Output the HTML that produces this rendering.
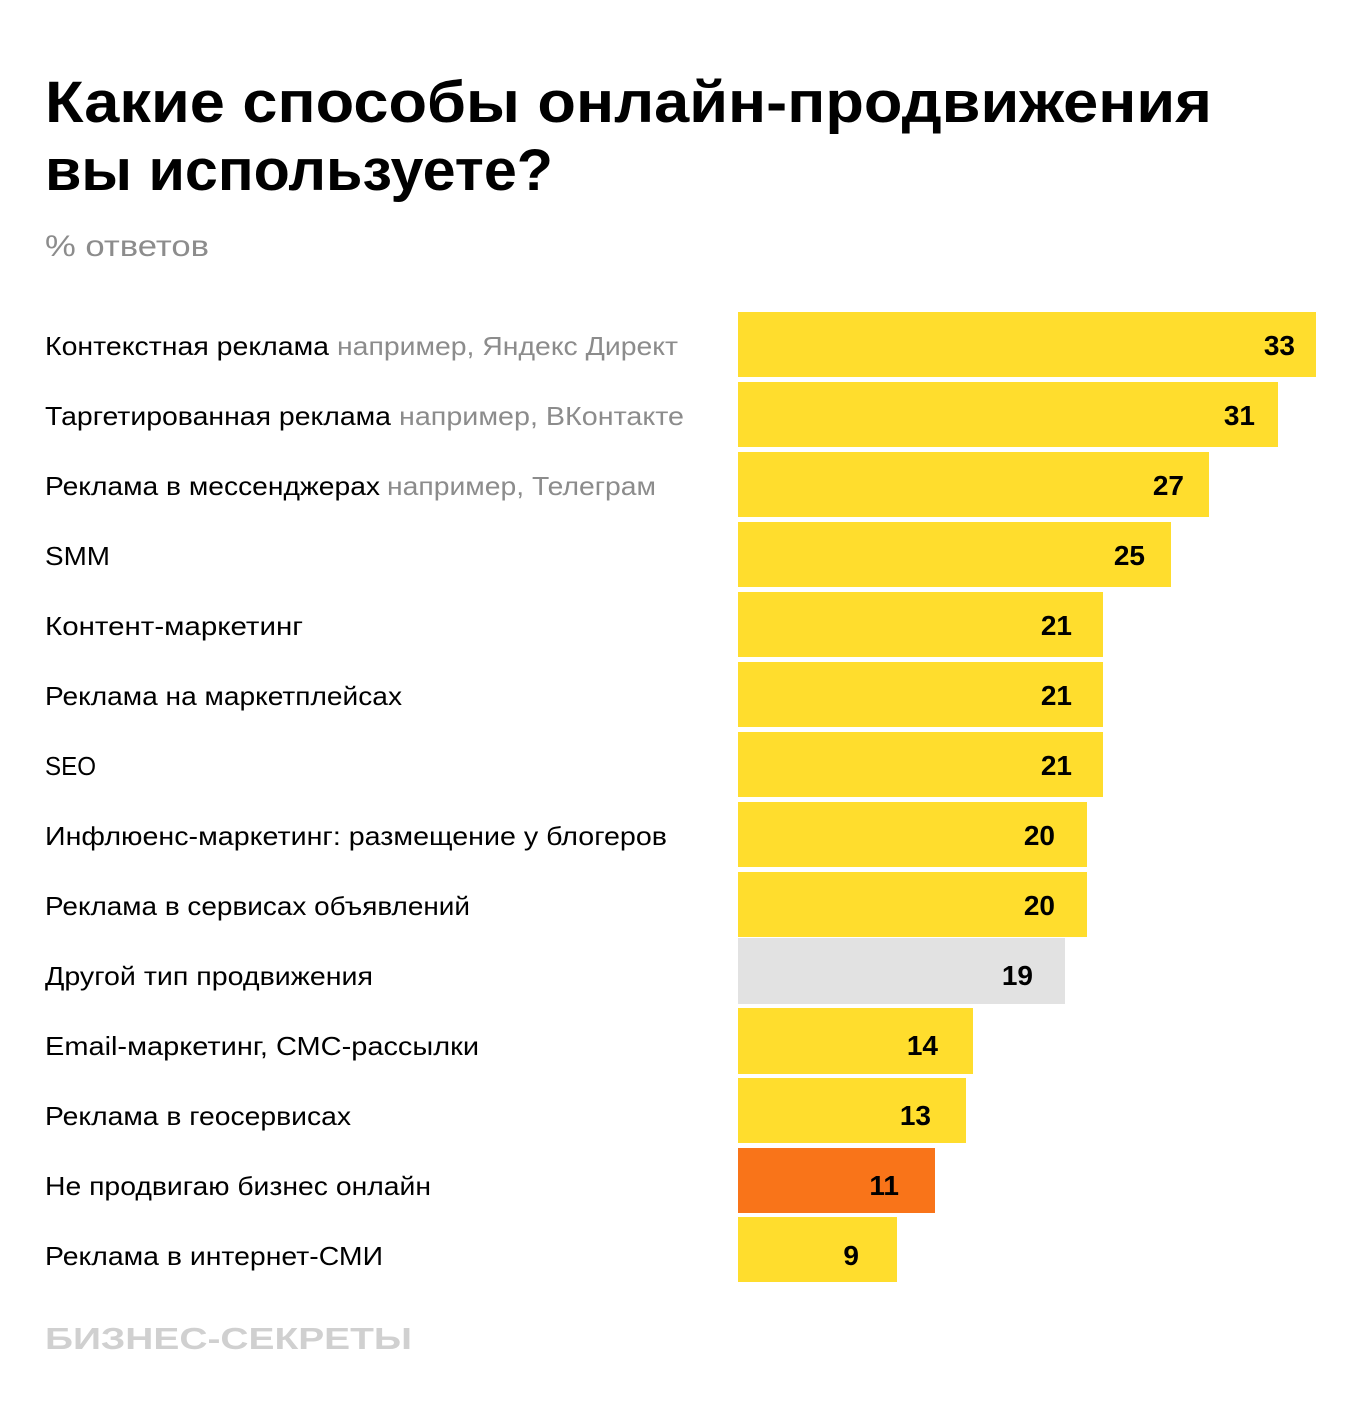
<!DOCTYPE html>
<html><head><meta charset="utf-8"><style>html,body{margin:0;padding:0;background:#fff}svg{display:block}</style></head>
<body>
<svg width="1360" height="1416" viewBox="0 0 1360 1416" xmlns="http://www.w3.org/2000/svg" font-family="'Liberation Sans', sans-serif">
<rect width="1360" height="1416" fill="#fff"/>
<text x="45" y="122" font-size="58" font-weight="bold" fill="#000" textLength="1167" lengthAdjust="spacingAndGlyphs">Какие способы онлайн-продвижения</text>
<text x="45" y="190" font-size="58" font-weight="bold" fill="#000" textLength="508" lengthAdjust="spacingAndGlyphs">вы используете?</text>
<text x="45" y="256" font-size="30" fill="#8c8c8c" textLength="164" lengthAdjust="spacingAndGlyphs">% ответов</text>
<g font-size="26" fill="#000">
<text x="45" y="355" textLength="284" lengthAdjust="spacingAndGlyphs">Контекстная реклама</text>
<text x="337" y="355" fill="#8c8c8c" textLength="341" lengthAdjust="spacingAndGlyphs">например, Яндекс Директ</text>
<text x="45" y="425" textLength="346" lengthAdjust="spacingAndGlyphs">Таргетированная реклама</text>
<text x="399" y="425" fill="#8c8c8c" textLength="285" lengthAdjust="spacingAndGlyphs">например, ВКонтакте</text>
<text x="45" y="495" textLength="335" lengthAdjust="spacingAndGlyphs">Реклама в мессенджерах</text>
<text x="387" y="495" fill="#8c8c8c" textLength="269" lengthAdjust="spacingAndGlyphs">например, Телеграм</text>
<text x="45" y="565" textLength="65" lengthAdjust="spacingAndGlyphs">SMM</text>
<text x="45" y="635" textLength="258" lengthAdjust="spacingAndGlyphs">Контент-маркетинг</text>
<text x="45" y="705" textLength="357" lengthAdjust="spacingAndGlyphs">Реклама на маркетплейсах</text>
<text x="45" y="775" textLength="51" lengthAdjust="spacingAndGlyphs">SEO</text>
<text x="45" y="845" textLength="622" lengthAdjust="spacingAndGlyphs">Инфлюенс-маркетинг: размещение у блогеров</text>
<text x="45" y="915" textLength="425" lengthAdjust="spacingAndGlyphs">Реклама в сервисах объявлений</text>
<text x="45" y="985" textLength="328" lengthAdjust="spacingAndGlyphs">Другой тип продвижения</text>
<text x="45" y="1055" textLength="434" lengthAdjust="spacingAndGlyphs">Email-маркетинг, СМС-рассылки</text>
<text x="45" y="1125" textLength="306" lengthAdjust="spacingAndGlyphs">Реклама в геосервисах</text>
<text x="45" y="1195" textLength="386" lengthAdjust="spacingAndGlyphs">Не продвигаю бизнес онлайн</text>
<text x="45" y="1265" textLength="338" lengthAdjust="spacingAndGlyphs">Реклама в интернет-СМИ</text>
</g>
<g>
<rect x="738" y="312" width="578" height="65" fill="#FFDD2D"/>
<rect x="738" y="382" width="540" height="65" fill="#FFDD2D"/>
<rect x="738" y="452" width="471" height="65" fill="#FFDD2D"/>
<rect x="738" y="522" width="433" height="65" fill="#FFDD2D"/>
<rect x="738" y="592" width="365" height="65" fill="#FFDD2D"/>
<rect x="738" y="662" width="365" height="65" fill="#FFDD2D"/>
<rect x="738" y="732" width="365" height="65" fill="#FFDD2D"/>
<rect x="738" y="802" width="349" height="65" fill="#FFDD2D"/>
<rect x="738" y="872" width="349" height="65" fill="#FFDD2D"/>
<rect x="738" y="938" width="327" height="66" fill="#E2E2E2"/>
<rect x="738" y="1008" width="235" height="66" fill="#FFDD2D"/>
<rect x="738" y="1078" width="228" height="65" fill="#FFDD2D"/>
<rect x="738" y="1148" width="197" height="65" fill="#F97419"/>
<rect x="738" y="1217" width="159" height="65" fill="#FFDD2D"/>
</g>
<g font-size="28" font-weight="bold" fill="#000" text-anchor="end">
<text x="1295" y="355">33</text>
<text x="1255" y="425">31</text>
<text x="1184" y="495">27</text>
<text x="1145" y="565">25</text>
<text x="1072" y="635">21</text>
<text x="1072" y="705">21</text>
<text x="1072" y="775">21</text>
<text x="1055" y="845">20</text>
<text x="1055" y="915">20</text>
<text x="1033" y="985">19</text>
<text x="938" y="1055">14</text>
<text x="931" y="1125">13</text>
<text x="899" y="1195">11</text>
<text x="859" y="1265">9</text>
</g>
<text x="45" y="1349" font-size="31" font-weight="bold" fill="#d0d0d0" textLength="367" lengthAdjust="spacingAndGlyphs">БИЗНЕС-СЕКРЕТЫ</text>
</svg>
</body></html>
